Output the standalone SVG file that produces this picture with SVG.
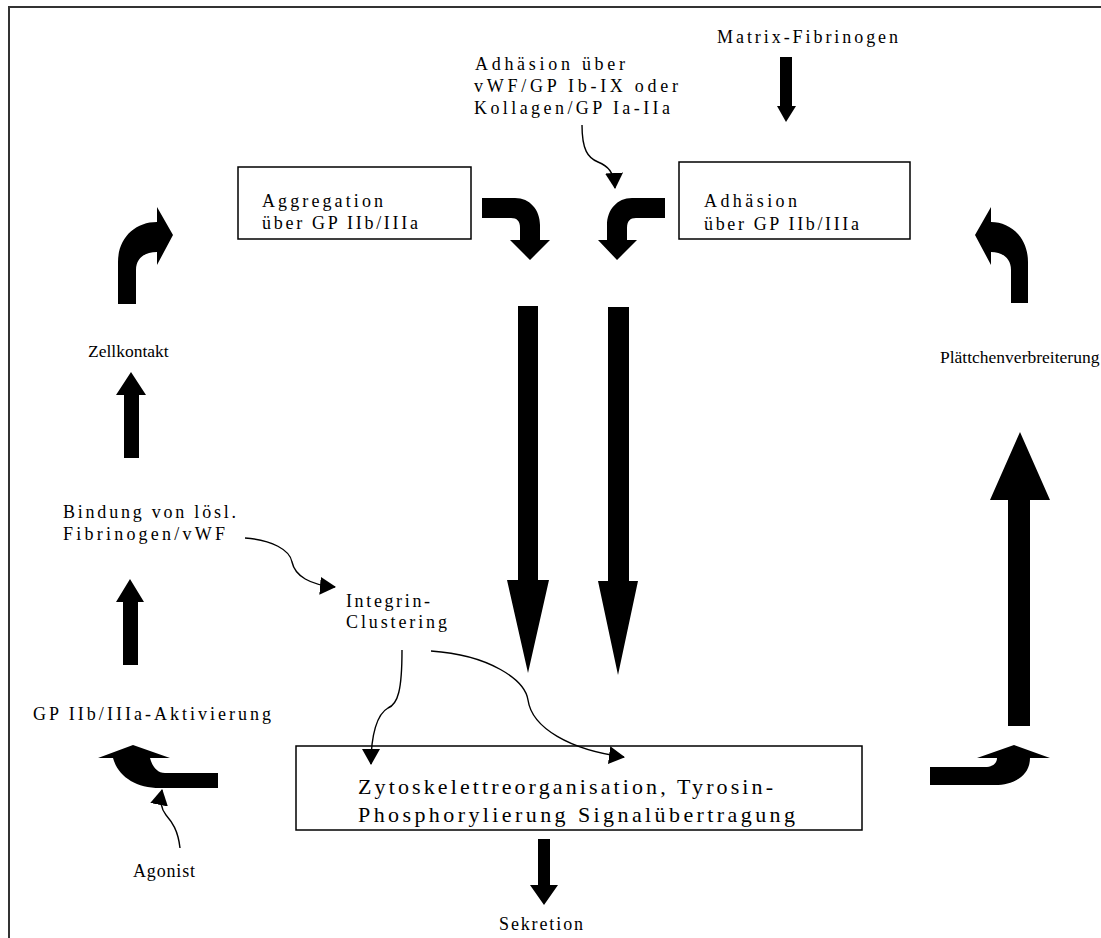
<svg xmlns="http://www.w3.org/2000/svg" width="1101" height="938" viewBox="0 0 1101 938">
  <style>
    .lbl { font-family: "Liberation Serif", "Times New Roman", serif; font-size: 18px; fill: #000; }
    .plain { font-size: 17.5px; }
    .big { font-size: 22px; }
    .box { fill: #fff; stroke: #000; stroke-width: 1.5; }
    .blk { fill: #000; stroke: none; }
    .thin { fill: none; stroke: #000; stroke-width: 1.4; marker-end: url(#head); }
  </style>
  <defs>
    <marker id="head" markerUnits="userSpaceOnUse" markerWidth="16" markerHeight="18" refX="15" refY="9" orient="auto">
      <path d="M0,0 L16,9 L0,18 Z" fill="#000"/>
    </marker>
  </defs>
  <rect width="1101" height="938" fill="#fff"/>
  <!-- outer frame -->
  <path d="M9,938 L9,7 L1101,7" fill="none" stroke="#333" stroke-width="2"/>

  <g id="matrix-fibrinogen">
    <text class="lbl" x="717" y="43" textLength="181" lengthAdjust="spacing">Matrix-Fibrinogen</text>
  </g>
  <g id="adhaesion-vwf">
    <text class="lbl" x="475" y="70" textLength="150" lengthAdjust="spacing">Adhäsion über</text>
    <text class="lbl" x="474" y="92" textLength="204" lengthAdjust="spacing">vWF/GP Ib-IX oder</text>
    <text class="lbl" x="474" y="114" textLength="196" lengthAdjust="spacing">Kollagen/GP Ia-IIa</text>
  </g>
  <g id="aggregation">
    <rect class="box" x="238" y="167" width="233" height="72"/>
    <text class="lbl" x="262" y="207" textLength="121" lengthAdjust="spacing">Aggregation</text>
    <text class="lbl" x="262" y="229" textLength="156" lengthAdjust="spacing">über GP IIb/IIIa</text>
  </g>
  <g id="adhaesion">
    <rect class="box" x="679" y="162" width="231" height="77"/>
    <text class="lbl" x="704" y="207" textLength="93" lengthAdjust="spacing">Adhäsion</text>
    <text class="lbl" x="704" y="230" textLength="155" lengthAdjust="spacing">über GP IIb/IIIa</text>
  </g>
  <g id="zellkontakt">
    <text class="lbl plain" x="88" y="357">Zellkontakt</text>
  </g>
  <g id="plaettchenverbreiterung">
    <text class="lbl plain" x="940" y="363">Plättchenverbreiterung</text>
  </g>
  <g id="bindung">
    <text class="lbl" x="63" y="518" textLength="173" lengthAdjust="spacing">Bindung von lösl.</text>
    <text class="lbl" x="63" y="540" textLength="162" lengthAdjust="spacing">Fibrinogen/vWF</text>
  </g>
  <g id="integrin-clustering">
    <text class="lbl" x="346" y="607" textLength="84" lengthAdjust="spacing">Integrin-</text>
    <text class="lbl" x="346" y="628" textLength="101" lengthAdjust="spacing">Clustering</text>
  </g>
  <g id="aktivierung">
    <text class="lbl" x="33" y="720" textLength="238" lengthAdjust="spacing">GP IIb/IIIa-Aktivierung</text>
  </g>
  <g id="signal">
    <rect class="box" x="296" y="746" width="566" height="84"/>
    <text class="lbl big" x="358" y="794" textLength="415" lengthAdjust="spacing">Zytoskelettreorganisation, Tyrosin-</text>
    <text class="lbl big" x="358" y="822" textLength="437" lengthAdjust="spacing">Phosphorylierung  Signalübertragung</text>
  </g>
  <g id="agonist">
    <text class="lbl" x="133" y="877" textLength="62" lengthAdjust="spacing">Agonist</text>
  </g>
  <g id="sekretion">
    <text class="lbl" x="499" y="930" font-size="19.5" textLength="84" lengthAdjust="spacing">Sekretion</text>
  </g>

  <g id="connectors">
    <!-- block arrows -->
    <polygon class="blk" points="780,57 792,57 792,106 796,106 786,122 777,106 780,106"/>
    <path class="blk" d="M118,304 L118,262 C118,238 135,222 157,222 L157,207 L173,235 L157,265 L157,252 C145,252 136,258 136,270 L136,304 Z"/>
    <path class="blk" d="M1028,303 L1028,262 C1028,238 1011,222 991,222 L991,207 L975,235 L991,265 L991,252 C1002,252 1011,258 1011,270 L1011,303 Z"/>
    <path class="blk" d="M482,198 L515,198 C530,198 540,210 540,225 L540,240 L550,240 L530,260 L510,240 L520,240 L520,228 C520,221 517,218 511,218 L482,218 Z"/>
    <path class="blk" d="M665,198 L632,198 C617,198 607,210 607,225 L607,240 L598,240 L617,260 L637,240 L627,240 L627,228 C627,221 630,218 636,218 L665,218 Z"/>
    <polygon class="blk" points="124,458 124,395 116,395 131,372 146,395 139,395 139,458"/>
    <polygon class="blk" points="123,665 123,602 116,602 130,579 144,602 138,602 138,665"/>
    <polygon class="blk" points="518,306 538,306 538,580 549,580 528,673 507,580 518,580"/>
    <polygon class="blk" points="608,307 629,307 629,581 638,581 618,675 598,581 608,581"/>
    <polygon class="blk" points="1008,726 1008,500 990,500 1020,432 1050,500 1030,500 1030,726"/>
    <path class="blk" d="M218,773 L165,773 C157,773 152,766 150,758 L170,758 L133,745 L98,758 L113,758 C118,776 135,788 160,788 L218,788 Z"/>
    <path class="blk" d="M930,767 L985,767 C993,767 997,763 997,758 L977,758 L1014,745 L1050,758 L1030,758 C1030,775 1015,785 995,785 L930,785 Z"/>
    <polygon class="blk" points="538,839 550,839 550,885 558,885 544,905 530,885 538,885"/>
    <!-- thin curved connectors -->
    <path class="thin" d="M582,125 C582,150 588,158 598,162 C608,166 614,172 615,188"/>
    <path class="thin" d="M245,538 C272,540 290,550 292,562 C295,576 310,585 335,587"/>
    <path class="thin" d="M402,650 C402,690 398,704 388,708 C377,714 371,735 371,764"/>
    <path class="thin" d="M431,651 C490,655 525,680 528,700 C532,728 570,750 624,757"/>
    <path class="thin" d="M180,848 C178,830 172,822 166,815 C160,808 160,800 162,790"/>
  </g>
</svg>
